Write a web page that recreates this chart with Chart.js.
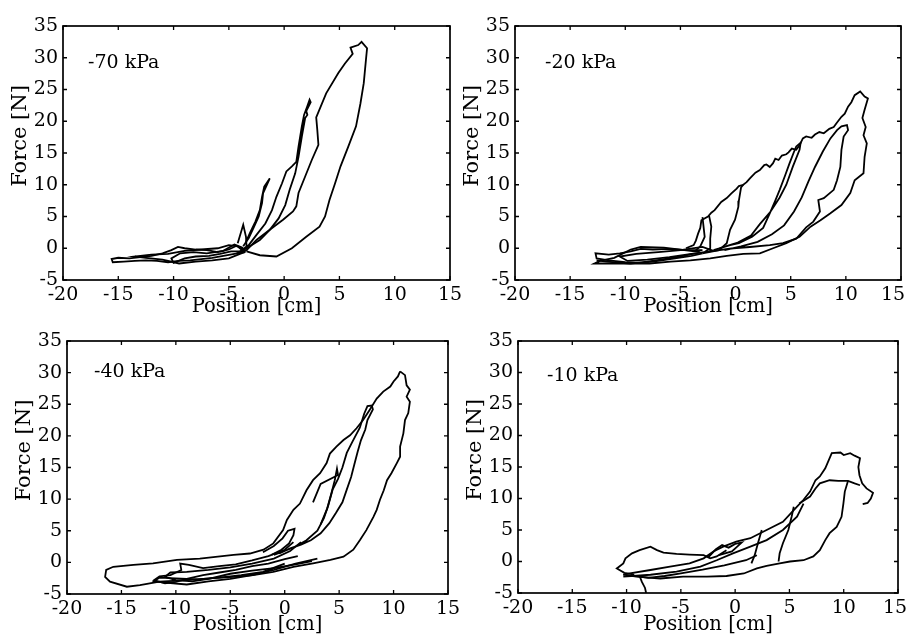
<!DOCTYPE html>
<html><head><meta charset="utf-8">
<script src="https://cdn.jsdelivr.net/npm/chart.js@4.4.0/dist/chart.umd.min.js"></script>
<style>
html,body{margin:0;padding:0;background:#fff;}
#wrap{position:relative;width:907px;height:638px;overflow:hidden;background:#fff;}
.pane{position:absolute;}
</style></head><body>
<div id="wrap">
<div class="pane" style="left:0px;top:0px;width:470px;height:322px"><canvas id="c1"></canvas></div>
<div class="pane" style="left:458px;top:0px;width:462px;height:322px"><canvas id="c2"></canvas></div>
<div class="pane" style="left:0px;top:322px;width:470px;height:316px"><canvas id="c3"></canvas></div>
<div class="pane" style="left:458px;top:322px;width:462px;height:316px"><canvas id="c4"></canvas></div>
</div>
<script>
// ---------- axis ticks ----------
const xTicks = [-20, -15, -10, -5, 0, 5, 10, 15];
const yTicks = [-5, 0, 5, 10, 15, 20, 25, 30, 35];
const panelLabels = ['-70 kPa', '-20 kPa', '-40 kPa', '-10 kPa'];
const xTitle = 'Position [cm]';
const yTitle = 'Force [N]';

// ---------- -70 kPa ----------
const p70_outer = [[-4.3,-0.8],[-3.4,-0.3],[-2.5,1.3],[-1.3,2.9],[-0.1,4.5],[0.8,5.8],[1.1,6.6],[1.3,8.7],[1.9,11.3],[2.5,13.9],[3.1,16.3],[3.0,18.6],[2.9,20.6],[3.8,24.4],[4.9,27.6],[5.5,29.1],[6.2,30.6],[6.0,31.6],[6.7,32.0],[7.0,32.5],[7.5,31.5],[7.4,29.7],[7.2,26.0],[6.9,22.8],[6.5,19.2],[5.8,16.0],[5.1,12.9],[4.6,10.2],[4.1,7.6],[3.7,5.0],[3.2,3.4],[2.0,1.8],[0.7,0.0],[-0.7,-1.3],[-2.2,-1.1],[-3.4,-0.5]];
const p70_mid = [[-4.0,-0.5],[-3.2,0.5],[-2.5,2.1],[-1.7,3.9],[-1.1,6.0],[-0.7,8.1],[-0.2,10.2],[0.2,12.1],[0.7,12.9],[1.1,13.6],[1.3,16.0],[1.6,19.2],[1.8,21.0],[2.1,22.4],[2.3,23.4],[2.4,23.0],[2.0,21.6],[2.1,21.0],[1.9,20.5],[1.6,17.6],[1.3,14.4],[1.0,11.8],[0.5,9.2],[0.1,6.8],[-0.5,4.7],[-1.3,2.9],[-2.2,1.3],[-3.1,0.3],[-3.9,-0.5]];
const p70_small = [[-3.5,0.8],[-3.1,2.4],[-2.6,4.2],[-2.2,6.0],[-2.0,8.1],[-1.8,9.7],[-1.3,11.0],[-1.5,10.2],[-1.9,8.7],[-2.0,7.1],[-2.3,5.0],[-2.8,3.1],[-3.2,1.6],[-3.7,0.3]];
const p70_spike = [[-4.2,0.8],[-3.7,3.7],[-3.45,1.8],[-3.4,0.2]];
const p70_c1 = [[-3.5,-0.6],[-4.5,-0.9],[-5.5,-1.2],[-6.5,-1.5],[-7.5,-1.7],[-8.5,-1.9],[-9.5,-2.0],[-10.5,-2.2],[-11.5,-2.0],[-12.5,-1.9],[-13.5,-2.0],[-14.5,-2.1],[-15.5,-2.2],[-15.6,-1.7],[-15.0,-1.5],[-14.0,-1.6],[-13.0,-1.4],[-12.0,-1.2],[-11.0,-0.8],[-10.2,-0.3],[-9.6,0.2],[-9.0,0.0],[-8.0,-0.2],[-7.0,-0.3],[-6.0,-0.6],[-5.0,-0.2],[-4.3,0.4],[-3.6,-0.4]];
const p70_c2 = [[-3.5,-0.5],[-4.8,-0.5],[-5.8,-0.9],[-6.8,-1.2],[-8.0,-1.3],[-9.0,-1.6],[-10.0,-2.3],[-10.2,-1.6],[-9.4,-0.8],[-8.2,-0.6],[-7.0,-0.8],[-5.5,-0.4],[-4.5,0.6],[-3.8,0.1],[-3.5,-0.5]];
const p70_c3 = [[-3.6,-0.6],[-5.0,-1.6],[-6.5,-1.9],[-8.0,-2.1],[-9.5,-2.4],[-11.0,-1.8],[-12.5,-1.5],[-13.5,-1.3],[-12.0,-1.0],[-10.5,-0.9],[-9.0,-0.4],[-7.5,-0.2],[-6.0,0.0],[-5.0,0.5],[-4.2,0.3],[-3.6,-0.6]];

// ---------- -20 kPa ----------
const p20_outer = [[-12.6,-1.9],[-11.7,-2.1],[-9.6,-2.4],[-7.8,-2.4],[-5.9,-2.1],[-4.1,-1.9],[-2.3,-1.6],[-0.8,-1.2],[0.7,-0.9],[2.2,-0.8],[3.4,0.0],[4.6,0.8],[5.8,1.8],[6.8,3.4],[7.7,4.4],[8.6,5.5],[9.6,6.8],[10.4,8.7],[10.8,10.7],[11.6,11.8],[11.7,14.4],[11.9,16.5],[11.6,17.8],[11.8,19.1],[11.5,20.5],[11.7,21.8],[12.0,23.6],[11.7,23.9],[11.3,24.7],[10.8,24.1],[10.5,23.0],[10.2,22.3],[9.9,21.2],[9.6,20.7],[9.2,19.8],[8.9,19.1],[8.5,18.8],[8.0,18.1],[7.6,18.3],[7.2,17.9],[6.9,17.4],[6.4,17.6],[6.1,17.3],[5.8,16.2],[5.5,15.5],[5.1,15.7],[4.8,15.1],[4.6,14.8],[4.2,14.6],[3.9,13.9],[3.6,14.1],[3.4,13.4],[3.1,12.8],[2.8,13.2],[2.6,13.1],[2.2,12.3],[1.8,11.9],[1.3,11.0],[1.0,10.4],[0.7,10.0],[0.3,9.8],[0.1,9.4],[-0.4,8.6],[-0.8,7.9],[-1.3,7.3],[-1.9,6.0],[-2.2,5.6],[-2.5,5.0],[-3.1,4.4],[-3.2,3.2],[-3.4,2.3],[-3.6,1.2],[-3.8,0.5],[-4.5,0.0]];
const p20_inner = [[-1.0,-0.3],[0.5,0.3],[2.0,1.0],[3.3,2.2],[4.4,3.6],[5.3,5.8],[6.0,8.0],[6.6,10.5],[7.2,12.8],[7.9,15.2],[8.6,17.3],[9.2,18.6],[9.6,19.2],[10.1,19.4],[10.2,18.6],[9.8,17.6],[9.6,15.5],[9.5,12.8],[9.2,10.7],[8.9,9.2],[8.0,7.9],[7.5,7.6],[7.65,5.8],[7.05,4.2],[6.4,3.3],[5.5,1.5],[4.3,0.8],[3.1,0.5],[1.3,0.2],[-0.2,0.0],[-2.0,-0.4]];
const p20_mid = [[-2.0,-0.3],[-0.5,0.5],[0.3,0.8],[1.5,1.8],[2.5,3.2],[3.1,5.5],[3.6,7.5],[4.0,9.2],[4.5,11.5],[4.9,13.4],[5.3,15.2],[5.5,16.0],[5.9,16.6],[5.8,15.5],[5.2,12.9],[4.6,10.0],[4.0,8.0],[3.1,5.6],[2.2,3.8],[1.4,2.0],[0.2,0.9],[-1.5,0.0]];
const p20_left1 = [[0.7,10.0],[0.5,9.6],[0.3,7.5],[0.25,6.5],[-0.05,4.5],[-0.5,2.9],[-0.8,0.8],[-1.5,-0.3],[-3.0,-0.8]];
const p20_left2 = [[-2.4,5.1],[-2.2,3.4],[-2.3,1.5],[-2.3,0.0],[-2.8,-0.6]];
const p20_left3 = [[-3.0,4.9],[-2.8,1.8],[-3.2,0.3],[-3.6,-0.3]];
const p20_c1 = [[-3.0,-0.3],[-4.5,-0.3],[-6.0,-0.1],[-7.5,-0.2],[-8.6,-0.1],[-9.5,-0.5],[-10.5,-0.8],[-11.5,-1.0],[-12.7,-0.8],[-12.6,-1.6],[-11.5,-1.9],[-10.0,-2.2],[-8.5,-2.3],[-7.0,-2.0],[-5.5,-1.6],[-4.0,-1.2],[-3.0,-0.8]];
const p20_c2 = [[-3.2,-0.6],[-5.0,-0.2],[-6.5,0.1],[-8.6,0.2],[-9.5,-0.2],[-11.0,-1.5],[-12.3,-2.0],[-12.8,-2.4],[-11.0,-2.4],[-9.5,-2.4],[-8.0,-2.1],[-6.5,-1.7],[-5.0,-1.3],[-3.2,-0.6]];
const p20_c3 = [[-2.0,-0.4],[-4.0,-0.9],[-6.0,-1.4],[-8.0,-1.8],[-9.8,-2.0],[-10.5,-1.3],[-9.0,-0.9],[-7.0,-0.6],[-5.0,-0.3],[-3.0,0.2],[-2.0,-0.4]];

// ---------- -40 kPa ----------
const p40_outer = [[10.6,30.2],[11.05,29.6],[11.2,28.0],[11.5,27.3],[11.2,26.2],[11.5,25.4],[11.35,23.6],[11.05,22.5],[10.9,20.4],[10.6,18.3],[10.6,16.7],[10.3,15.7],[9.8,14.1],[9.4,13.0],[9.1,11.4],[8.75,9.9],[8.45,8.3],[8.15,7.2],[7.5,5.1],[6.9,3.5],[6.3,2.0],[5.4,0.9],[4.2,0.4],[2.6,-0.15],[0.8,-0.7],[-1.05,-1.5],[-2.9,-2.0],[-4.7,-2.3],[-6.6,-2.5],[-9.0,-2.8],[-11.5,-3.05],[-13.3,-3.6],[-14.5,-3.85],[-16.05,-3.05],[-16.5,-2.3],[-16.4,-1.2],[-15.75,-0.7],[-13.9,-0.4],[-12.1,-0.15],[-9.9,0.4],[-7.8,0.6],[-4.7,1.2],[-3.2,1.4],[-1.95,2.0],[-1.05,3.0],[-0.15,5.1],[0.2,6.7],[0.8,8.3],[1.4,9.3],[2.0,11.4],[2.6,13.0],[3.25,14.1],[3.85,15.7],[4.15,17.2],[4.75,18.3],[5.4,19.35],[6.0,20.1],[6.6,21.2],[7.2,22.5],[7.8,24.1],[8.45,25.9],[9.05,27.0],[9.7,27.8],[10.0,28.6],[10.4,29.4],[10.6,30.2]];
const p40_inner = [[-1.0,1.2],[0.0,1.8],[1.0,2.5],[2.0,3.5],[3.0,5.0],[3.6,7.0],[4.0,9.0],[4.4,11.5],[4.9,13.2],[5.3,15.0],[5.7,17.3],[6.2,19.0],[6.9,21.3],[7.3,23.5],[7.6,24.7],[8.0,24.8],[8.1,24.2],[7.6,22.5],[7.4,21.0],[7.0,19.3],[6.7,17.5],[6.4,15.5],[6.1,13.5],[5.7,11.5],[5.3,9.5],[4.7,7.8],[4.1,6.2],[3.3,4.6],[2.4,3.5],[1.5,2.8],[0.5,2.2],[-0.5,1.4]];
const p40_spike = [[2.6,9.5],[3.3,12.4],[4.9,13.8],[4.8,14.8],[4.6,13.0],[4.3,11.0],[3.9,8.5],[3.3,6.0]];
const p40_small = [[-2.0,1.6],[-1.0,2.6],[-0.2,3.8],[0.3,5.0],[0.9,5.3],[0.8,4.3],[0.4,3.0],[-0.3,2.0],[-1.2,1.2]];
const p40_c1 = [[1.2,1.0],[0.0,0.5],[-1.5,-0.2],[-3.0,-0.6],[-4.5,-1.2],[-6.0,-1.6],[-7.5,-2.0],[-9.0,-2.6],[-10.0,-3.1],[-11.0,-3.3],[-12.0,-2.8],[-11.5,-2.2],[-10.5,-2.0],[-9.5,-1.2],[-9.6,-0.2],[-8.8,-0.4],[-7.5,-0.9],[-6.0,-0.6],[-4.5,-0.3],[-3.0,0.3],[-1.5,1.0],[0.0,2.0],[0.8,3.2]];
const p40_c2 = [[2.5,0.2],[1.0,-0.3],[-1.0,-0.9],[-3.0,-1.3],[-5.0,-1.8],[-7.0,-2.6],[-8.5,-3.0],[-10.0,-2.8],[-11.0,-2.3],[-10.5,-1.6],[-9.0,-1.5],[-7.0,-1.2],[-5.0,-0.8],[-3.0,-0.2],[-1.0,0.6],[0.5,1.8],[1.5,3.2]];
const p40_c3 = [[0.0,-0.2],[-2.0,-1.5],[-4.0,-2.0],[-6.0,-2.4],[-8.0,-2.7],[-11.5,-2.4],[-12.0,-3.0],[-11.0,-3.2],[-9.0,-3.5],[-7.0,-3.0],[-5.0,-2.6],[-3.0,-2.0],[-1.0,-1.2],[1.0,-0.2],[3.0,0.6]];

// ---------- -10 kPa ----------
const p10_outer = [[-10.3,-2.1],[-9.7,-1.9],[-7.8,-1.35],[-6.0,-0.8],[-4.2,-0.3],[-2.9,0.5],[-2.0,1.6],[-1.1,2.35],[0.1,3.15],[1.4,3.7],[2.9,5.0],[4.4,6.3],[5.7,8.7],[6.3,9.8],[6.9,11.1],[7.4,12.9],[7.8,13.5],[8.3,14.8],[8.9,17.2],[9.7,17.3],[10.0,16.9],[10.6,17.2],[11.0,16.8],[11.5,16.4],[11.35,15.0],[11.45,13.7],[11.7,12.4],[12.1,11.6],[12.7,10.9],[12.5,10.0],[12.2,9.3],[11.75,9.1]];
const p10_inner = [[5.9,9.2],[6.9,10.3],[7.4,11.6],[7.8,12.4],[8.7,12.9],[9.5,12.8],[10.4,12.8],[11.0,12.4],[11.5,12.1]];
const p10_down = [[10.4,12.8],[10.1,11.1],[9.97,9.2],[9.8,7.1],[9.35,5.5],[8.7,4.5],[8.3,3.4],[7.8,1.8],[7.2,0.8],[6.3,0.2],[5.05,0.0],[4.1,-0.3],[2.9,-0.7],[2.0,-1.1],[0.8,-1.9],[-0.8,-2.3],[-2.6,-2.4],[-4.8,-2.4],[-6.9,-2.7],[-9.1,-2.4],[-10.3,-2.1]];
const p10_line5 = [[5.4,8.7],[5.2,7.1],[4.9,5.0],[4.4,2.9],[4.1,1.3],[4.0,0.0]];
const p10_line2 = [[2.45,5.0],[2.1,2.9],[1.8,1.0],[1.5,-0.3]];
const p10_bundle = [[-10.3,-2.4],[-7.8,-2.1],[-5.4,-1.6],[-3.2,-0.8],[-1.7,0.2],[-0.2,1.3],[1.4,2.35],[2.9,3.4],[4.4,5.0],[5.7,7.1],[6.3,9.2]];
const p10_blob = [[-9.3,-2.1],[-10.2,-1.8],[-10.9,-1.1],[-10.3,-0.3],[-10.1,0.5],[-9.5,1.3],[-8.8,1.8],[-7.8,2.35],[-7.2,1.8],[-6.6,1.4],[-5.4,1.2],[-4.2,1.1],[-2.9,1.0],[-2.3,0.5],[-1.7,0.8],[-0.8,1.8]];
const p10_tail = [[-8.8,-2.3],[-8.6,-3.2],[-8.3,-4.2],[-8.2,-5.0]];
const p10_cluster = [[-9.5,-2.2],[-8.0,-2.6],[-6.5,-2.3],[-5.0,-1.9],[-3.0,-1.3],[-1.0,-0.6],[1.0,0.2],[2.0,1.0]];
const p10_knot = [[-2.5,0.6],[-1.8,1.9],[-1.2,2.6],[-0.6,2.2],[0.0,2.8],[0.6,3.0],[-0.3,1.6],[-1.5,1.0]];

// ---------- drawing ----------
const FONT = '"DejaVu Serif", serif';

const deco = {
  id: 'deco',
  afterDatasetsDraw(chart, args, o) {
    const ctx = chart.ctx, a = chart.chartArea, sx = chart.scales.x, sy = chart.scales.y;
    ctx.save();
    ctx.strokeStyle = '#000';
    ctx.lineWidth = 1.7;
    ctx.strokeRect(a.left, a.top, a.right - a.left, a.bottom - a.top);
    ctx.lineWidth = 1.3;
    const L = 4;
    ctx.beginPath();
    sx.ticks.forEach(t => { const p = sx.getPixelForValue(t.value);
      ctx.moveTo(p, a.bottom); ctx.lineTo(p, a.bottom - L);
      ctx.moveTo(p, a.top); ctx.lineTo(p, a.top + L); });
    sy.ticks.forEach(t => { const p = sy.getPixelForValue(t.value);
      ctx.moveTo(a.left, p); ctx.lineTo(a.left + L, p);
      ctx.moveTo(a.right, p); ctx.lineTo(a.right - L, p); });
    ctx.stroke();
    ctx.fillStyle = '#000';
    // last x tick label drawn shifted inward when it would be cut by the page edge
    if (o.lastShift) {
      const items = sx.getLabelItems();
      const it = items[0];
      const last = xTicks[xTicks.length - 1];
      ctx.save();
      ctx.font = '19px ' + FONT;
      ctx.textAlign = 'center';
      ctx.textBaseline = it.options.textBaseline;
      ctx.fillText(String(last), sx.getPixelForValue(last) - o.lastShift, it.options.translation[1] + (it.textOffset || 0));
      ctx.restore();
    }
    ctx.font = o.labelSize + 'px ' + FONT;
    ctx.textAlign = 'left'; ctx.textBaseline = 'alphabetic';
    ctx.fillText(o.label, a.left + o.labelDx, a.top + o.labelDy);
    ctx.translate(a.left - o.yTitleDx, (a.top + a.bottom) / 2 - o.yTitleUp);
    ctx.rotate(-Math.PI / 2);
    ctx.textAlign = 'center'; ctx.textBaseline = 'middle';
    ctx.font = o.yTitleSize + 'px ' + FONT;
    ctx.fillText(yTitle, 0, 0);
    ctx.restore();
  }
};

function makeChart(id, lines, cfg) {
  const datasets = lines.map(d => ({
    data: d.map(p => ({x: p[0], y: p[1]})),
    showLine: true, borderColor: '#000', backgroundColor: '#000',
    borderWidth: 1.8, pointRadius: 0, pointHoverRadius: 0, tension: 0, fill: false
  }));
  const tickFont = {family: FONT, size: 19};
  const last = xTicks[xTicks.length - 1];
  return new Chart(document.getElementById(id), {
    type: 'scatter',
    data: {datasets},
    options: {
      responsive: true, maintainAspectRatio: false, animation: false, events: [],
      layout: {padding: {left: 0, top: cfg.padTop, right: cfg.padRight, bottom: 0}},
      plugins: {
        legend: {display: false}, tooltip: {enabled: false},
        deco: {label: cfg.label, labelDx: cfg.labelDx, labelDy: cfg.labelDy, labelSize: 19,
               yTitleDx: 42, yTitleUp: 17, yTitleSize: 21, lastShift: cfg.lastShift || 0}
      },
      scales: {
        x: {
          type: 'linear', min: xTicks[0], max: last,
          afterBuildTicks: s => { s.ticks = xTicks.map(v => ({value: v})); },
          ticks: {color: '#000', font: tickFont, padding: 4, maxRotation: 0, autoSkip: false,
                  callback: v => (cfg.lastShift && v === last) ? '' : String(v)},
          grid: {display: false, drawTicks: false}, border: {display: false},
          title: {display: true, text: xTitle, color: '#000', font: {family: FONT, size: 19.5},
                  padding: {top: 0, bottom: cfg.xTitlePad}},
          afterFit: s => { s.height = cfg.xH; }
        },
        y: {
          type: 'linear', min: yTicks[0], max: yTicks[yTicks.length - 1],
          afterBuildTicks: s => { s.ticks = yTicks.map(v => ({value: v})); },
          ticks: {color: '#000', font: tickFont, padding: 5, autoSkip: false},
          grid: {display: false, drawTicks: false}, border: {display: false},
          afterFit: s => { s.width = cfg.yW; }
        }
      }
    },
    plugins: [deco]
  });
}

makeChart('c1', [p70_outer, p70_mid, p70_small, p70_spike, p70_c1, p70_c2, p70_c3],
  {padTop: 26, padRight: 20, yW: 63, xH: 42, xTitlePad: 3, label: panelLabels[0], labelDx: 25, labelDy: 42});
makeChart('c2', [p20_outer, p20_inner, p20_mid, p20_left1, p20_left2, p20_left3, p20_c1, p20_c2, p20_c3],
  {padTop: 26, padRight: 19, yW: 57, xH: 42, xTitlePad: 3, label: panelLabels[1], labelDx: 30, labelDy: 42, lastShift: 8});
makeChart('c3', [p40_outer, p40_inner, p40_spike, p40_small, p40_c1, p40_c2, p40_c3],
  {padTop: 19, padRight: 22, yW: 67, xH: 44, xTitlePad: 1, label: panelLabels[2], labelDx: 27, labelDy: 36});
makeChart('c4', [p10_outer, p10_inner, p10_down, p10_line5, p10_line2, p10_bundle, p10_blob, p10_tail, p10_cluster, p10_knot],
  {padTop: 19, padRight: 22, yW: 60, xH: 45, xTitlePad: 1, label: panelLabels[3], labelDx: 29, labelDy: 40, lastShift: 3});
</script>
</body></html>
